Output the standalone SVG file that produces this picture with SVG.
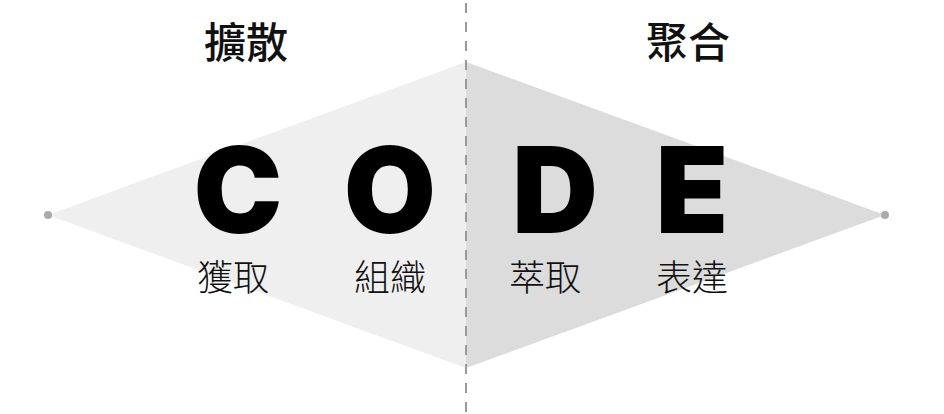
<svg xmlns="http://www.w3.org/2000/svg" width="944" height="414" viewBox="0 0 944 414">
<style>
.big{font-family:Inter,"Liberation Sans",sans-serif;font-weight:900;font-size:119px;fill:#000;text-anchor:middle}
.lbl{font-family:"Noto Sans CJK TC","Noto Sans CJK SC",sans-serif;font-weight:300;font-size:36px;fill:#111;text-anchor:middle}
.hdr{font-family:"Noto Sans CJK TC","Noto Sans CJK SC",sans-serif;font-weight:500;font-size:42px;fill:#111;text-anchor:middle}
</style>
<rect width="944" height="414" fill="#fff"/>
<g id="diverge">
<polygon points="48,215 466,62 466,368" fill="#efefef"/>
<circle cx="48" cy="215" r="4" fill="#aaa"/>
<text class="hdr" x="246" y="58">擴散</text>
</g>
<g id="converge">
<polygon points="466,62 885,215 466,368" fill="#dcdcdc"/>
<circle cx="885" cy="215" r="4" fill="#aaa"/>
<text class="hdr" x="688" y="58">聚合</text>
</g>
<g id="connectors">
<line x1="466" y1="3" x2="466" y2="414" stroke="#999" stroke-width="2" stroke-dasharray="10,9"/>
</g>
<g id="node-c"><text class="big" x="238" y="233">C</text><text class="lbl" x="233" y="291">獲取</text></g>
<g id="node-o"><text class="big" x="390" y="233">O</text><text class="lbl" x="390" y="291">組織</text></g>
<g id="node-d"><text class="big" x="555" y="233">D</text><text class="lbl" x="545" y="291">萃取</text></g>
<g id="node-e"><text class="big" x="692" y="233">E</text><text class="lbl" x="692" y="291">表達</text></g>
</svg>
